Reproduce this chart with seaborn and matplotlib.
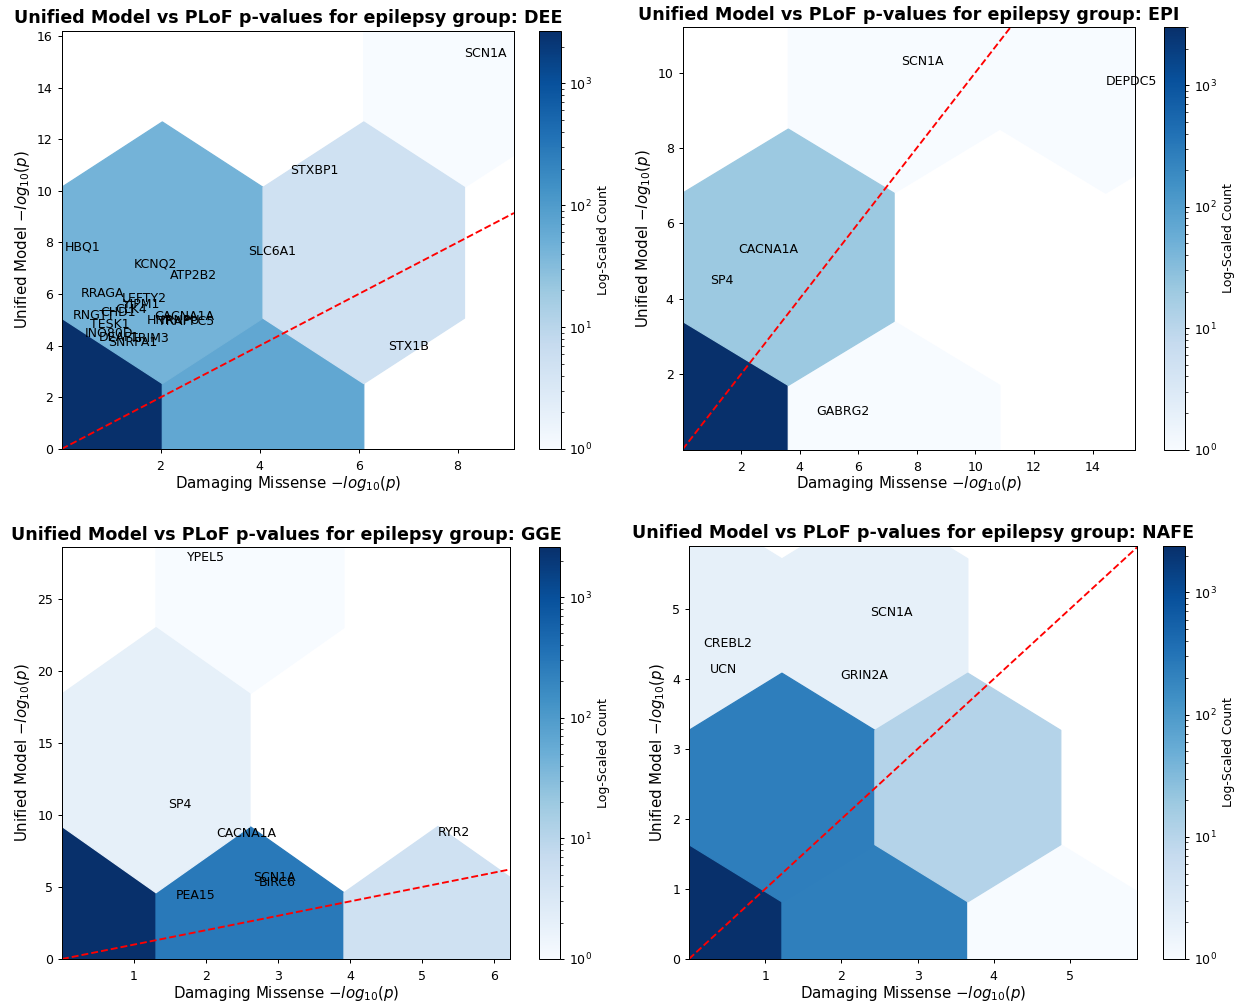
import numpy as np
import matplotlib
matplotlib.use("Agg")
import matplotlib.pyplot as plt
import seaborn as sns

# ---------------- DEE ----------------
dee_genes = ["SCN1A", "STXBP1", "SLC6A1", "HBQ1", "KCNQ2", "ATP2B2", "RRAGA", "LEFTY2",
             "YIPM1", "CLK4", "CHD1", "RNGTT", "TESK1", "CACNA1A", "HNRNPU", "TRAPPC5",
             "INO80D", "DEAF1", "TRIM3", "SNRPA1", "STX1B"]
dee_missense = [8.14, 4.62, 3.76, 0.055, 1.455, 2.19, 0.39, 1.22,
                1.25, 1.08, 0.78, 0.217, 0.576, 1.88, 1.73, 1.94,
                0.46, 0.745, 1.39, 0.935, 6.60]
dee_unified = [15.20, 10.66, 7.53, 7.68, 7.02, 6.59, 5.88, 5.69,
               5.47, 5.28, 5.17, 5.05, 4.70, 5.00, 4.83, 4.79,
               4.34, 4.20, 4.14, 4.00, 3.82]
# remaining genes, summarised as representative values with gene counts
dee_bg_missense = [0.001, 4.20, 1.60, 5.80]
dee_bg_unified = [0.0, 1.10, 6.50, 6.00]
dee_bg_count = [2700, 65, 27, 3]

# ---------------- EPI ----------------
epi_genes = ["SCN1A", "DEPDC5", "CACNA1A", "SP4", "GABRG2"]
epi_missense = [7.48, 14.45, 1.89, 0.94, 4.57]
epi_unified = [10.20, 9.67, 5.22, 4.40, 0.92]
epi_bg_missense = [0.002, 3.20]
epi_bg_unified = [0.003, 5.60]
epi_bg_count = [3000, 19]

# ---------------- GGE ----------------
gge_genes = ["YPEL5", "SP4", "CACNA1A", "RYR2", "SCN1A", "BIRC6", "PEA15"]
gge_missense = [1.74, 1.47, 2.14, 5.22, 2.65, 2.73, 1.58]
gge_unified = [27.60, 10.45, 8.47, 8.57, 5.38, 5.08, 4.18]
gge_bg_missense = [0.001, 2.40, 4.60]
gge_bg_unified = [0.0, 1.80, 2.00]
gge_bg_count = [2600, 287, 4]

# ---------------- NAFE ----------------
nafe_genes = ["SCN1A", "CREBL2", "UCN", "GRIN2A"]
nafe_missense = [2.38, 0.185, 0.28, 1.99]
nafe_unified = [4.90, 4.46, 4.09, 4.00]
nafe_bg_missense = [0.001, 1.00, 2.20, 3.50, 4.88, 0.50]
nafe_bg_unified = [0.0, 2.20, 0.60, 2.00, 0.40, 3.60]
nafe_bg_count = [2400, 230, 230, 11, 1, 2]

panels = [
    ("DEE", dee_genes, dee_missense, dee_unified, dee_bg_missense, dee_bg_unified, dee_bg_count),
    ("EPI", epi_genes, epi_missense, epi_unified, epi_bg_missense, epi_bg_unified, epi_bg_count),
    ("GGE", gge_genes, gge_missense, gge_unified, gge_bg_missense, gge_bg_unified, gge_bg_count),
    ("NAFE", nafe_genes, nafe_missense, nafe_unified, nafe_bg_missense, nafe_bg_unified, nafe_bg_count),
]

sns.set_style("ticks", rc={"axes.edgecolor": "black", "text.color": "black",
                           "axes.labelcolor": "black", "xtick.color": "black",
                           "ytick.color": "black"})
plt.rcParams["font.family"] = ["DejaVu Sans"]
plt.rcParams["xtick.major.pad"] = 5.5
blues = sns.color_palette("Blues", as_cmap=True)

W, H = 1237, 1002
DPI = 90
fig = plt.figure(figsize=(W / DPI, H / DPI), dpi=DPI)


def box(left, right, top, bottom):
    return [left / W, 1 - bottom / H, (right - left) / W, (bottom - top) / H]


layout = [
    (box(61.6, 514, 30.7, 449), box(539.3, 560.7, 30.7, 449)),
    (box(682.5, 1135, 27.3, 449.5), box(1164, 1185, 27.3, 449.5)),
    (box(62, 510, 547, 959), box(539, 560, 547, 959)),
    (box(689, 1137, 546, 959), box(1163.3, 1185, 546, 959)),
]

for (group, genes, gx, gy, bx, by, bn), (ax_rect, cb_rect) in zip(panels, layout):
    ax = fig.add_axes(ax_rect)
    cax = fig.add_axes(cb_rect)
    x = np.array(list(gx) + list(bx), dtype=float)
    y = np.array(list(gy) + list(by), dtype=float)
    w = np.array([1] * len(gx) + list(bn), dtype=float)
    hb = ax.hexbin(x, y, C=w, reduce_C_function=np.sum, gridsize=2,
                   bins="log", cmap=blues)
    ax.set_xlim(x.min(), x.max() + 1)
    ax.set_ylim(y.min(), y.max() + 1)
    ax.axline((0, 0), slope=1, color="red", linestyle="--", linewidth=1.5)
    for g, xi, yi in zip(genes, gx, gy):
        ax.text(xi, yi, g, fontsize=10)
    ax.set_title(f"Unified Model vs PLoF p-values for epilepsy group: {group}",
                 fontsize=14, fontweight="bold")
    ax.set_xlabel(r"Damaging Missense $-log_{10}(p)$", fontsize=12, labelpad=0.5)
    ax.set_ylabel(r"Unified Model $-log_{10}(p)$", fontsize=12)
    cb = fig.colorbar(hb, cax=cax)
    cb.set_label("Log-Scaled Count")

fig.savefig("out.png", dpi=DPI)
